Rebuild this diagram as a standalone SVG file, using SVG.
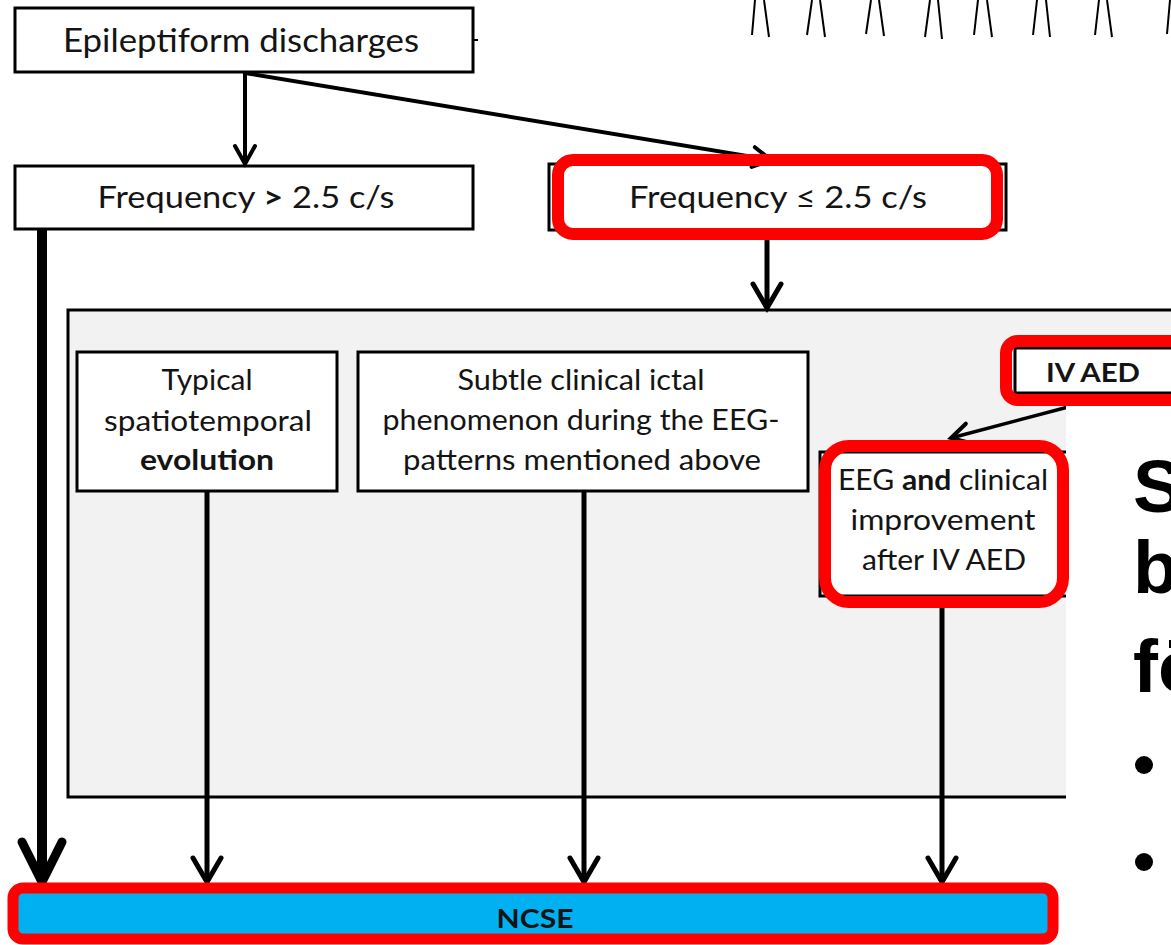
<svg xmlns="http://www.w3.org/2000/svg" width="1171" height="945" viewBox="0 0 1171 945">
<defs>
<style>
.box{fill:#fff;stroke:#000;stroke-width:3}
.hl{fill:none;stroke:#ff0000;stroke-width:12}
.t{font-family:Lato,"Open Sans","Liberation Sans",sans-serif;fill:#141414;text-anchor:middle}
.conn line,.conn path{stroke:#000;fill:none}
.big{font-family:"Liberation Sans",Arial,sans-serif;font-weight:bold;font-size:75px;fill:#000}
.deco line{stroke:#000;stroke-width:2}
</style>
<marker id="aS" markerUnits="userSpaceOnUse" markerWidth="30" markerHeight="30" refX="20" refY="10" orient="auto" overflow="visible"><path d="M2,0 L20,10 L2,20" fill="none" stroke="#000" stroke-width="4" stroke-linecap="round"/></marker>
<marker id="aM" markerUnits="userSpaceOnUse" markerWidth="30" markerHeight="30" refX="26" refY="14" orient="auto" overflow="visible"><path d="M2,0 L26,14 L2,28" fill="none" stroke="#000" stroke-width="5" stroke-linecap="round"/></marker>
<marker id="aL" markerUnits="userSpaceOnUse" markerWidth="60" markerHeight="60" refX="44" refY="22" orient="auto" overflow="visible"><path d="M4,2 L44,22 L4,42" fill="none" stroke="#000" stroke-width="9" stroke-linecap="round"/></marker>
</defs>
<rect width="1171" height="945" fill="#fff"/>

<g id="deco" class="deco">
<line x1="755" y1="0" x2="752" y2="35"/><line x1="764" y1="0" x2="769" y2="37"/>
<line x1="812" y1="0" x2="807" y2="35"/><line x1="820" y1="0" x2="825" y2="37"/>
<line x1="871" y1="0" x2="866" y2="34"/><line x1="879" y1="0" x2="884" y2="36"/>
<line x1="930" y1="0" x2="925" y2="37"/><line x1="938" y1="0" x2="942" y2="39"/>
<line x1="978" y1="0" x2="974" y2="35"/><line x1="987" y1="0" x2="992" y2="37"/>
<line x1="1037" y1="0" x2="1033" y2="35"/><line x1="1046" y1="0" x2="1050" y2="37"/>
<line x1="1099" y1="0" x2="1095" y2="35"/><line x1="1107" y1="0" x2="1112" y2="37"/>
<line x1="1170" y1="0" x2="1167" y2="34"/>
</g>

<g id="panel">
<rect x="68" y="310" width="1130" height="487" fill="#f2f2f2" stroke="#000" stroke-width="3"/>
</g>

<g id="n-epi">
<rect class="box" x="15" y="8" width="458" height="64" stroke-width="4"/>
<line x1="473" y1="40" x2="478" y2="40" stroke="#000" stroke-width="2"/>
<text class="t" x="241" y="52" font-size="33" textLength="356" lengthAdjust="spacingAndGlyphs">Epileptiform discharges</text>
</g>

<g id="n-fhigh">
<rect class="box" x="15" y="166" width="458" height="63"/>
<text class="t" x="246" y="208" font-size="31" textLength="297" lengthAdjust="spacingAndGlyphs">Frequency <tspan font-weight="bold">&gt;</tspan> 2.5 c/s</text>
</g>

<g id="n-flow">
<rect class="box" x="549" y="164" width="457" height="66"/>
<text class="t" x="778" y="208" font-size="31" textLength="298" lengthAdjust="spacingAndGlyphs">Frequency ≤ 2.5 c/s</text>
</g>

<g id="n-typ">
<rect class="box" x="77" y="352" width="260" height="139"/>
<text class="t" x="207" y="390" font-size="29" textLength="91" lengthAdjust="spacingAndGlyphs">Typical</text>
<text class="t" x="208" y="431" font-size="29" textLength="208" lengthAdjust="spacingAndGlyphs">spatiotemporal</text>
<text class="t" x="207" y="470" font-size="29" font-weight="bold" textLength="134" lengthAdjust="spacingAndGlyphs">evolution</text>
</g>

<g id="n-sub">
<rect class="box" x="358" y="352" width="450" height="139"/>
<text class="t" x="581" y="390" font-size="29" textLength="247" lengthAdjust="spacingAndGlyphs">Subtle clinical ictal</text>
<text class="t" x="581" y="430" font-size="29" textLength="397" lengthAdjust="spacingAndGlyphs">phenomenon during the EEG-</text>
<text class="t" x="582" y="470" font-size="29" textLength="358" lengthAdjust="spacingAndGlyphs">patterns mentioned above</text>
</g>

<g id="n-iv">
<rect class="box" x="1015" y="348" width="180" height="45"/>
</g>

<g id="n-eeg">
<rect class="box" x="820" y="452" width="248" height="144"/>
<text class="t" x="943" y="490" font-size="29" textLength="210" lengthAdjust="spacingAndGlyphs">EEG <tspan font-weight="bold">and</tspan> clinical</text>
<text class="t" x="943" y="530" font-size="29" textLength="185" lengthAdjust="spacingAndGlyphs">improvement</text>
<text class="t" x="944" y="570" font-size="29" textLength="164" lengthAdjust="spacingAndGlyphs">after IV AED</text>
</g>

<g id="connectors" class="conn">
<line x1="245" y1="72" x2="245" y2="164" stroke-width="4" marker-end="url(#aS)"/>
<line x1="245" y1="73" x2="771" y2="160" stroke-width="4" marker-end="url(#aS)"/>
<line x1="767" y1="232" x2="767" y2="308" stroke-width="5" marker-end="url(#aM)"/>
<line x1="42" y1="229" x2="42" y2="882" stroke-width="10" marker-end="url(#aL)"/>
<line x1="207" y1="491" x2="207" y2="882" stroke-width="5" marker-end="url(#aM)"/>
<line x1="584" y1="491" x2="584" y2="882" stroke-width="5" marker-end="url(#aM)"/>
<line x1="942" y1="596" x2="942" y2="882" stroke-width="5" marker-end="url(#aM)"/>
<line x1="1072" y1="406" x2="951" y2="438" stroke-width="3.5" marker-end="url(#aS)"/>
</g>

<rect id="overlay" x="1066" y="405" width="110" height="545" fill="#fff"/>

<g id="highlights">
<rect class="hl" x="558" y="160" width="439" height="74" rx="15"/>
<rect class="hl" x="825" y="446" width="238" height="156" rx="24" stroke-width="13"/>
<rect class="hl" x="1006" y="341" width="190" height="59" rx="12" stroke-width="13"/>
</g>
<text class="t" x="1093" y="382" font-size="26" font-weight="bold" textLength="94" lengthAdjust="spacingAndGlyphs">IV AED</text>

<g id="n-ncse">
<rect x="13" y="888" width="1040" height="51" rx="10" fill="#00b0f0" stroke="#ff0000" stroke-width="11"/>
<text class="t" x="535" y="928" font-size="27" font-weight="bold" fill="#000" textLength="77" lengthAdjust="spacingAndGlyphs">NCSE</text>
</g>

<g id="slide-text">
<text class="big" x="1133" y="512">S</text>
<text class="big" x="1133" y="593">b</text>
<text class="big" x="1133" y="692">fö</text>
<circle cx="1144" cy="765" r="9" fill="#000"/>
<circle cx="1144" cy="862" r="9" fill="#000"/>
</g>
</svg>
